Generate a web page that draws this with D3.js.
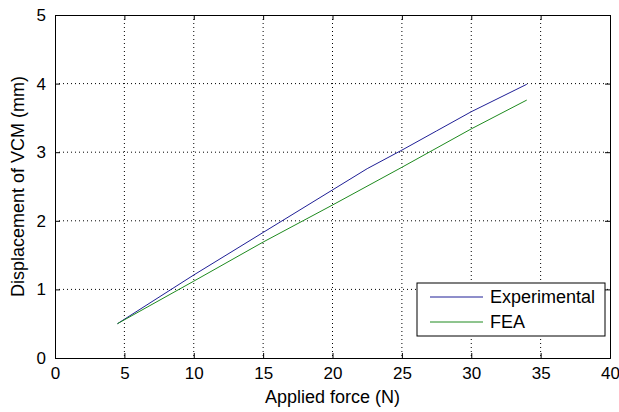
<html>
<head>
<script src="https://d3js.org/d3.v7.min.js"></script>
<style>
  body { margin: 0; background: #fff; }
  text { font-family: "Liberation Sans", Arial, sans-serif; }
</style>
</head>
<body>
<div id="chart"></div>
<script>
// data
let expForce = [4.5, 10, 15, 20, 22.5, 25, 27.5, 30, 34];
let expDisp  = [0.5, 1.21, 1.83, 2.45, 2.76, 3.03, 3.31, 3.59, 3.99];
let feaForce = [4.5, 10, 15, 20, 25, 30, 34];
let feaDisp  = [0.5, 1.12, 1.69, 2.23, 2.78, 3.34, 3.76];
let xTicks = [0, 5, 10, 15, 20, 25, 30, 35, 40];
let yTicks = [0, 1, 2, 3, 4, 5];
let seriesNames = ["Experimental", "FEA"];

let W = 619, H = 412;
let margin = {top: 15, right: 9, bottom: 54, left: 55};
let width = W - margin.left - margin.right,
    height = H - margin.top - margin.bottom;

let svg = d3.select("#chart").append("svg")
  .attr("width", W).attr("height", H);
let g = svg.append("g")
  .attr("transform", "translate(" + margin.left + "," + margin.top + ")");

let x = d3.scaleLinear().domain([0, 40]).range([0, width]);
let y = d3.scaleLinear().domain([0, 5]).range([height, 0]);

// grid
g.append("g").selectAll("line").data(xTicks.slice(1, -1)).enter().append("line")
  .attr("x1", d => x(d)).attr("x2", d => x(d))
  .attr("y1", 0).attr("y2", height)
  .attr("stroke", "#000").attr("stroke-dasharray", "1,3");
g.append("g").selectAll("line").data(yTicks.slice(1, -1)).enter().append("line")
  .attr("y1", d => y(d)).attr("y2", d => y(d))
  .attr("x1", 0).attr("x2", width)
  .attr("stroke", "#000").attr("stroke-dasharray", "1,3");

// axes with inward ticks
let fs = "18px", tfs = "17px";
let fmt = d3.format("d");
g.append("g").attr("transform", "translate(0," + height + ")")
  .call(d3.axisBottom(x).tickValues(xTicks).tickFormat(fmt).tickSize(-5).tickPadding(9))
  .call(a => a.selectAll("text").style("font-size", tfs).attr("fill", "#000"));
g.append("g")
  .call(d3.axisTop(x).tickValues(xTicks).tickSize(-5).tickFormat(""));
g.append("g")
  .call(d3.axisLeft(y).tickValues(yTicks).tickFormat(fmt).tickSize(-5).tickPadding(9))
  .call(a => a.selectAll("text").style("font-size", tfs).attr("fill", "#000"));
g.append("g").attr("transform", "translate(" + width + ",0)")
  .call(d3.axisRight(y).tickValues(yTicks).tickSize(-5).tickFormat(""));
g.selectAll(".domain").attr("stroke", "#000");

// lines
let color = d3.scaleOrdinal().domain(seriesNames).range(["#1f1f96", "#1e8a1e"]);
let line = d3.line().x(d => x(d[0])).y(d => y(d[1]));
let series = [
  {name: "Experimental", pts: d3.zip(expForce, expDisp)},
  {name: "FEA", pts: d3.zip(feaForce, feaDisp)}
];
g.selectAll(".series").data(series).enter().append("path")
  .attr("d", d => line(d.pts))
  .attr("fill", "none")
  .attr("stroke", d => color(d.name))
  .attr("stroke-width", 1);

// axis labels
svg.append("text")
  .attr("x", margin.left + width / 2).attr("y", 403)
  .attr("text-anchor", "middle").style("font-size", fs)
  .text("Applied force (N)");
svg.append("text")
  .attr("transform", "translate(24," + (margin.top + height / 2) + ") rotate(-90)")
  .attr("text-anchor", "middle").style("font-size", fs)
  .text("Displacement of VCM (mm)");

// legend
let lg = svg.append("g").attr("transform", "translate(417,283)");
lg.append("rect").attr("width", 188).attr("height", 53)
  .attr("fill", "#fff").attr("stroke", "#000");
let items = lg.selectAll(".item").data(seriesNames).enter().append("g")
  .attr("transform", (d, i) => "translate(0," + (14 + i * 25) + ")");
items.append("line").attr("x1", 13).attr("x2", 66).attr("y1", 0).attr("y2", 0)
  .attr("stroke", d => color(d));
items.append("text").attr("x", 73).attr("dy", "0.35em")
  .style("font-size", fs).text(d => d);
</script>
</body>
</html>
